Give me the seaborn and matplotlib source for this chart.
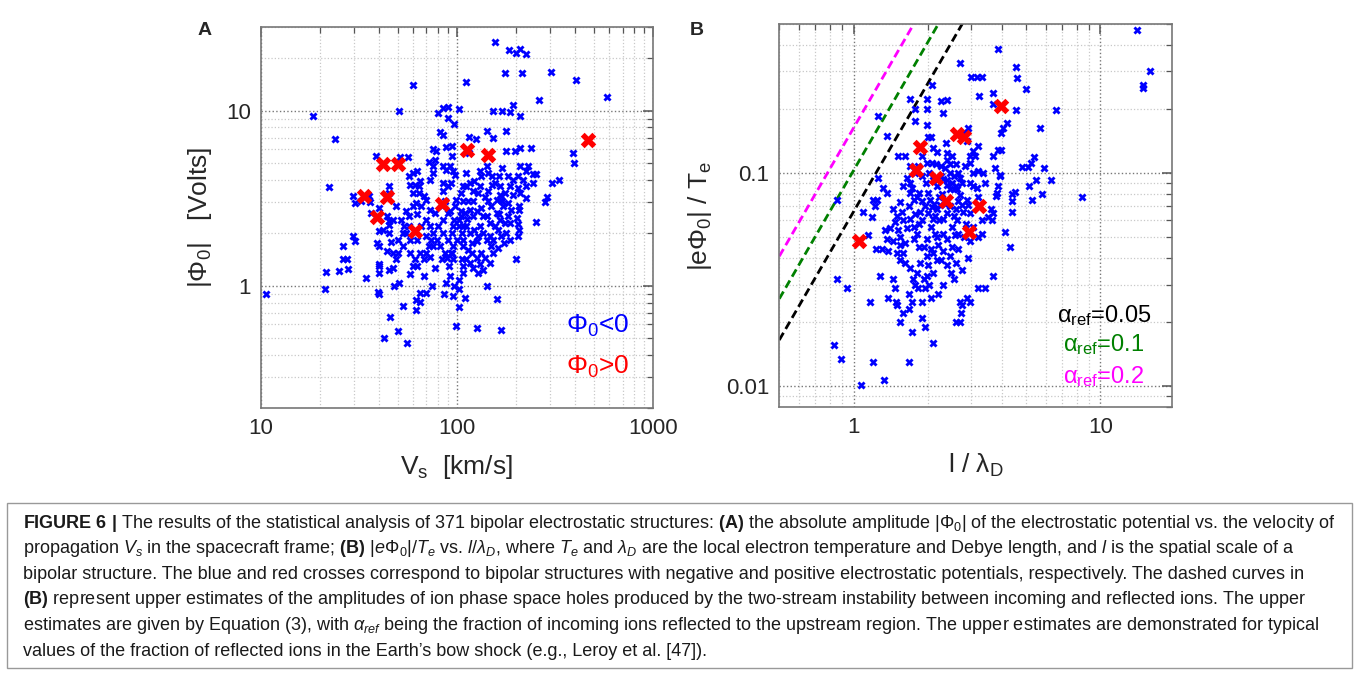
import numpy as np
import seaborn as sns
import matplotlib
matplotlib.use('Agg')
import matplotlib.pyplot as plt
from matplotlib.patches import Rectangle
from matplotlib.ticker import NullFormatter

# panel A: |Phi0| vs Vs, negative potentials (blue)
vs_neg = [157, 185, 200, 209, 226, 176, 216, 301, 112, 403, 60, 261, 585, 18.5, 50.8, 23.9, 22.2, 38.8, 51.3, 56.5,
          80, 85, 90.3, 102, 90, 96.6, 82, 85, 153, 169, 187, 194, 210, 197, 210, 179, 240, 179, 142, 153,
          125, 116, 116, 88, 94, 94, 396, 392, 332, 307, 281, 287, 252, 230, 226, 245, 254, 226, 226, 210,
          205, 194, 187, 205, 208, 208, 203, 205, 208, 205, 200, 187, 170, 172, 166, 168, 165, 166, 163, 168,
          162, 157, 151, 144, 152, 165, 170, 142, 144, 133, 131, 128, 139, 144, 133, 136, 131, 136, 142, 147,
          123, 128, 126, 153, 150, 114, 117, 121, 117, 112, 110, 113, 108, 106, 108, 107, 117, 119, 114, 120,
          112, 121, 131, 136, 128, 106, 108, 110, 103, 143, 160, 167, 127, 99, 97, 102, 96, 88, 92, 86,
          91, 96, 93, 96, 100, 95, 103, 97, 92, 98, 105, 99, 105, 107, 93, 98, 88, 96, 85, 92,
          77, 78, 76, 85, 90, 85, 76, 73, 72, 76, 87, 84, 90, 85, 80, 85, 79, 82, 87, 84,
          89, 76, 74, 72, 76, 70, 68, 73, 77, 70, 68, 64, 62, 66, 73, 70, 60, 63, 60, 64,
          65, 57, 60, 63, 58, 61, 55, 57, 54, 52, 53, 50, 53, 50, 58, 61, 60, 63, 58, 68,
          75, 65, 70, 62, 65, 62, 53, 50, 56, 45.6, 42.5, 51, 48, 47, 49, 47, 46, 44, 45, 42,
          44, 45, 40, 35.6, 36, 32.3, 30.4, 29.6, 26.3, 26.3, 27.6, 28, 25, 21.4, 21.3, 10.6, 29.4, 30.2, 34.6, 39.5,
          40, 40, 40, 40, 39, 40, 45, 40, 45, 45, 45, 36.7, 107, 112, 121, 127, 142, 147, 157, 160,
          150, 160, 182, 190, 182, 176, 178, 186, 173, 153, 140, 147, 133, 126, 117, 108, 102, 94, 90, 102,
          121, 194, 218, 245, 210, 182, 166, 176, 123, 131, 112, 105, 96, 77, 73, 70, 66, 63, 58, 55,
          65, 57, 49, 47]
phi_neg = [24.6, 22.1, 21.4, 22.5, 20.9, 16.3, 16.3, 16.6, 14.6, 14.9, 14.0, 11.5, 11.9, 9.3, 10.0, 6.9, 3.66, 5.48, 5.4, 5.4,
           9.7, 10.4, 10.5, 10.2, 9.1, 8.4, 7.55, 7.2, 9.9, 9.9, 9.8, 10.7, 9.3, 5.9, 6.1, 5.9, 6.1, 7.6, 7.6, 7.0,
           6.9, 7.1, 5.73, 6.2, 6.3, 5.5, 5.0, 5.7, 4.0, 3.86, 3.0, 3.2, 2.32, 4.8, 4.5, 4.35, 4.35, 3.17, 3.7, 3.4,
           3.6, 3.3, 3.7, 4.2, 2.85, 2.7, 2.44, 2.25, 2.09, 1.91, 1.41, 2.27, 3.04, 2.84, 3.3, 3.1, 2.55, 2.38, 2.09, 1.91,
           1.64, 3.86, 3.77, 3.46, 4.2, 4.2, 4.7, 4.8, 4.4, 4.2, 3.7, 3.4, 3.2, 3.03, 2.78, 2.5, 2.18, 2.0, 1.83, 1.91,
           2.09, 1.91, 1.79, 1.83, 1.68, 3.03, 2.72, 3.46, 3.86, 4.4, 2.6, 2.4, 2.18, 2.0, 1.83, 1.68, 2.0, 1.75, 1.6, 1.54,
           1.41, 1.26, 1.32, 1.23, 1.18, 1.41, 1.29, 0.85, 0.75, 0.99, 0.84, 0.56, 0.57, 0.59, 0.99, 0.96, 0.87, 1.04, 1.13, 0.89,
           1.29, 1.41, 1.54, 1.68, 1.83, 2.0, 2.18, 2.38, 2.66, 2.84, 2.66, 3.1, 3.4, 3.7, 3.86, 4.3, 4.55, 4.5, 4.8, 4.8,
           5.2, 5.9, 6.0, 3.86, 3.7, 3.46, 4.4, 4.0, 5.1, 4.8, 3.03, 2.84, 2.6, 2.38, 2.18, 2.0, 1.83, 1.68, 1.54, 1.41,
           1.44, 2.0, 1.83, 1.68, 1.68, 1.54, 1.41, 1.46, 1.26, 3.1, 3.24, 3.4, 2.97, 2.84, 2.72, 2.38, 2.84, 2.58, 3.4, 3.7,
           3.95, 4.2, 4.4, 4.5, 3.77, 3.77, 2.66, 2.49, 2.18, 2.38, 2.0, 1.83, 1.68, 1.54, 1.54, 1.41, 1.29, 1.29, 1.16, 1.13,
           1.0, 0.91, 0.91, 0.83, 0.81, 0.73, 0.76, 0.55, 0.47, 0.66, 0.5, 1.04, 1.0, 1.26, 1.41, 1.54, 1.77, 1.57, 2.0, 2.09,
           2.49, 2.33, 2.78, 3.24, 3.0, 3.03, 2.96, 3.24, 1.69, 1.41, 1.41, 1.25, 1.21, 1.19, 0.95, 0.9, 1.91, 1.79, 1.1, 0.92,
           0.89, 1.18, 1.29, 1.32, 1.75, 1.68, 1.22, 2.06, 2.23, 3.7, 3.4, 2.6, 3.03, 2.18, 2.49, 2.66, 2.49, 2.28, 2.18, 2.6,
           2.84, 3.1, 2.97, 2.72, 2.49, 2.28, 2.0, 1.83, 1.75, 1.54, 1.44, 1.35, 1.54, 1.44, 1.35, 1.18, 1.08, 1.54, 1.83, 2.38,
           3.03, 4.0, 4.0, 3.86, 4.8, 4.2, 3.7, 3.4, 3.95, 4.5, 3.7, 2.49, 2.18, 2.6, 2.18, 1.91, 2.18, 1.83, 1.83, 2.0,
           1.54, 2.18, 2.84, 2.38]

# panel A: positive potentials (red)
vs_pos = [33.7, 42.2, 50, 44.2, 39, 61.4, 84, 113, 145, 467]
phi_pos = [3.27, 4.98, 4.98, 3.21, 2.47, 2.04, 2.93, 5.93, 5.6, 6.77]

# panel B: |e Phi0|/Te vs l/lambda_D, negative potentials (blue)
l_neg = [14.1, 14.9, 14.9, 15.9, 3.86, 2.7, 4.55, 4.6, 5.0, 4.57, 6.6, 3.0, 3.16, 3.3, 3.22, 3.68, 3.66, 4.17, 4.04, 3.97,
         3.95, 3.86, 3.68, 3.75, 3.9, 4.8, 5.1, 5.25, 5.4, 5.7, 5.9, 6.3, 5.5, 5.15, 5.8, 5.3, 8.4, 4.4, 4.5, 4.37,
         4.4, 4.1, 4.3, 3.68, 3.4, 3.2, 3.8, 3.77, 3.86, 3.9, 3.6, 3.68, 3.65, 3.3, 3.2, 3.06, 2.96, 2.92, 2.87, 3.06,
         2.96, 3.06, 3.2, 3.33, 2.96, 3.06, 3.2, 2.87, 2.96, 3.1, 2.92, 2.78, 2.37, 2.31, 2.27, 2.38, 2.07, 1.99, 1.7, 1.78,
         1.98, 1.77, 1.98, 2.0, 2.05, 2.1, 2.17, 2.38, 2.38, 2.45, 2.34, 2.27, 2.45, 2.55, 2.4, 2.5, 2.6, 2.55, 2.31, 2.38,
         2.46, 2.66, 2.7, 2.74, 2.62, 2.7, 2.66, 2.74, 2.78, 2.54, 2.62, 2.5, 2.66, 2.58, 2.46, 2.38, 2.31, 2.21, 2.31, 2.18,
         2.38, 2.1, 2.05, 2.14, 1.98, 1.92, 2.05, 2.1, 1.98, 2.17, 2.27, 2.38, 2.47, 2.54, 2.1, 1.98, 1.92, 2.03, 1.95, 2.06,
         1.8, 1.74, 1.77, 1.83, 1.68, 1.72, 1.67, 1.58, 1.54, 1.89, 1.95, 1.73, 2.1, 2.6, 2.72, 2.7, 2.7, 2.74, 2.87, 2.96,
         1.67, 1.45, 1.5, 1.47, 1.52, 1.54, 1.54, 1.59, 1.5, 1.54, 1.62, 1.69, 1.75, 1.68, 1.77, 1.69, 1.84, 1.9, 1.86, 1.84,
         1.9, 1.75, 1.8, 1.75, 1.84, 1.62, 1.69, 1.77, 1.89, 1.83, 1.98, 1.9, 1.97, 2.07, 2.03, 2.1, 2.17, 1.54, 1.57, 1.69,
         1.59, 2.01, 2.04, 2.07, 2.01, 2.21, 2.24, 2.17, 2.14, 1.34, 1.36, 1.38, 1.3, 1.52, 1.36, 1.32, 1.24, 1.2, 1.22, 1.19,
         1.09, 1.14, 1.23, 1.28, 1.45, 1.47, 1.38, 1.49, 1.5, 1.17, 1.25, 1.37, 1.26, 0.86, 0.86, 0.94, 0.83, 0.89, 1.2, 1.33,
         1.07, 1.65, 1.72, 1.8, 1.95, 2.12, 2.28, 2.35, 2.6, 2.85, 2.95, 2.8, 2.66, 2.5, 2.3, 2.2, 2.6, 2.45, 2.0, 1.85,
         1.7, 1.62, 1.65, 1.58, 1.4, 1.45, 2.15, 2.25, 2.5, 2.6, 2.82, 3.15, 3.2, 3.4, 3.5, 3.3, 2.9, 2.75, 2.3, 2.2,
         1.9]
ephi_neg = [0.468, 0.26, 0.251, 0.30, 0.381, 0.33, 0.313, 0.278, 0.247, 0.198, 0.198, 0.282, 0.282, 0.282, 0.23, 0.238, 0.212, 0.172, 0.163, 0.155,
            0.129, 0.129, 0.12, 0.106, 0.097, 0.107, 0.107, 0.111, 0.119, 0.163, 0.106, 0.093, 0.093, 0.087, 0.08, 0.075, 0.077, 0.08, 0.082, 0.074,
            0.066, 0.053, 0.045, 0.033, 0.029, 0.029, 0.081, 0.078, 0.087, 0.098, 0.068, 0.065, 0.06, 0.06, 0.05, 0.056, 0.065, 0.071, 0.075, 0.087,
            0.09, 0.1, 0.102, 0.1, 0.112, 0.127, 0.134, 0.141, 0.12, 0.12, 0.163, 0.155, 0.139, 0.192, 0.218, 0.22, 0.258, 0.222, 0.223, 0.2,
            0.2, 0.175, 0.168, 0.147, 0.147, 0.131, 0.125, 0.124, 0.115, 0.11, 0.106, 0.108, 0.1, 0.097, 0.093, 0.09, 0.087, 0.084, 0.094, 0.088,
            0.084, 0.1, 0.095, 0.09, 0.084, 0.079, 0.074, 0.071, 0.066, 0.063, 0.06, 0.056, 0.052, 0.051, 0.07, 0.065, 0.061, 0.06, 0.052, 0.05,
            0.049, 0.061, 0.056, 0.052, 0.049, 0.045, 0.044, 0.042, 0.041, 0.039, 0.039, 0.037, 0.034, 0.032, 0.034, 0.033, 0.032, 0.03, 0.029, 0.026,
            0.034, 0.032, 0.03, 0.029, 0.027, 0.025, 0.023, 0.022, 0.02, 0.021, 0.019, 0.018, 0.016, 0.02, 0.022, 0.02, 0.025, 0.024, 0.026, 0.025,
            0.013, 0.068, 0.063, 0.059, 0.054, 0.05, 0.046, 0.042, 0.042, 0.039, 0.038, 0.081, 0.075, 0.07, 0.064, 0.061, 0.081, 0.074, 0.066, 0.058,
            0.06, 0.056, 0.052, 0.049, 0.045, 0.12, 0.108, 0.1, 0.12, 0.108, 0.112, 0.097, 0.09, 0.112, 0.1, 0.093, 0.087, 0.073, 0.066, 0.09,
            0.087, 0.081, 0.075, 0.069, 0.065, 0.077, 0.071, 0.068, 0.063, 0.054, 0.049, 0.043, 0.044, 0.12, 0.081, 0.085, 0.075, 0.075, 0.07, 0.062,
            0.066, 0.051, 0.044, 0.033, 0.032, 0.029, 0.026, 0.025, 0.024, 0.025, 0.095, 0.15, 0.185, 0.075, 0.032, 0.029, 0.0157, 0.0134, 0.013, 0.0107,
            0.0101, 0.095, 0.085, 0.077, 0.07, 0.072, 0.08, 0.072, 0.068, 0.058, 0.048, 0.05, 0.044, 0.045, 0.043, 0.046, 0.038, 0.041, 0.037, 0.038,
            0.036, 0.047, 0.055, 0.06, 0.055, 0.048, 0.11, 0.097, 0.12, 0.11, 0.108, 0.085, 0.077, 0.09, 0.062, 0.052, 0.04, 0.035, 0.03, 0.027,
            0.025]

# panel B: positive potentials (red)
l_pos = [1.05, 1.86, 1.79, 2.15, 2.36, 2.63, 2.8, 3.94, 3.22, 2.94]
ephi_pos = [0.048, 0.132, 0.103, 0.095, 0.074, 0.153, 0.148, 0.206, 0.07, 0.053]

# upper estimates |e Phi0|/Te = c * (l/lambda_D)^2 for each alpha_ref
alpha_ref = ['0.05', '0.1', '0.2']
alpha_coef = [0.066, 0.103, 0.163]
alpha_colors = ['black', '#008000', '#ff00ff']

caption_lines = [
    r"$\mathbf{FIGURE\ 6\ |}$ The results of the statistical analysis of 371 bipolar electrostatic structures: $\mathbf{(A)}$ the absolute amplitude |Φ$_0$| of the electrostatic potential vs. the velocity of",
    r"propagation $V_s$ in the spacecraft frame; $\mathbf{(B)}$ |$e$Φ$_0$|/$T_e$ vs. $l$/$\lambda_D$, where $T_e$ and $\lambda_D$ are the local electron temperature and Debye length, and $l$ is the spatial scale of a",
    "bipolar structure. The blue and red crosses correspond to bipolar structures with negative and positive electrostatic potentials, respectively. The dashed curves in",
    r"$\mathbf{(B)}$ represent upper estimates of the amplitudes of ion phase space holes produced by the two-stream instability between incoming and reflected ions. The upper",
    r"estimates are given by Equation (3), with $\alpha_{ref}$ being the fraction of incoming ions reflected to the upstream region. The upper estimates are demonstrated for typical",
    "values of the fraction of reflected ions in the Earth’s bow shock (e.g., Leroy et al. [47]).",
]

sns.set_style('white')
plt.rcParams['font.family'] = ['Liberation Sans', 'DejaVu Sans']
plt.rcParams['mathtext.fontset'] = 'custom'
plt.rcParams['mathtext.rm'] = 'Liberation Sans'
plt.rcParams['mathtext.it'] = 'Liberation Sans:italic'
plt.rcParams['mathtext.bf'] = 'Liberation Sans:bold'
plt.rcParams['mathtext.sf'] = 'Liberation Sans'


def style_axis(ax):
    ax.set_xscale('log')
    ax.set_yscale('log')
    ax.grid(True, which='minor', color='#c8c8c8', linestyle=':', linewidth=0.9)
    ax.grid(True, which='major', color='#777777', linestyle=':', linewidth=1.0)
    ax.set_axisbelow(True)
    ax.tick_params(which='both', direction='in', top=True, right=True, color='#555555', labelsize=16)
    ax.tick_params(which='major', length=7, width=1.1, pad=7)
    ax.tick_params(which='minor', length=4, width=0.9)
    ax.xaxis.set_minor_formatter(NullFormatter())
    ax.yaxis.set_minor_formatter(NullFormatter())
    for sp in ax.spines.values():
        sp.set_color('#777777')
        sp.set_linewidth(1.2)


fig = plt.figure(figsize=(13.6, 6.73), dpi=100)
ax1 = fig.add_axes([0.1917, 0.3938, 0.2884, 0.5661])
ax2 = fig.add_axes([0.5730, 0.3952, 0.2888, 0.5690])

# ---- panel A
style_axis(ax1)
sns.scatterplot(x=vs_neg, y=phi_neg, marker='X', color='#0000ff', s=34, linewidth=0, ax=ax1, zorder=3)
sns.scatterplot(x=vs_pos, y=phi_pos, marker='X', color='#ff0000', s=125, linewidth=0, ax=ax1, zorder=4)
ax1.set_xlim(10, 1000)
ax1.set_ylim(0.2, 30)
ax1.set_xticks([10, 100, 1000], ['10', '100', '1000'])
ax1.set_yticks([1, 10], ['1', '10'])
ax1.set_xlabel('V$_\\mathsf{s}$  [km/s]', fontsize=19, labelpad=10)
ax1.set_ylabel('|Φ$_\\mathsf{0}$|   [Volts]', fontsize=19, labelpad=9)
ax1.text(0.94, 0.216, 'Φ$_\\mathsf{0}$<0', color='#0000ff', fontsize=19, ha='right', va='center', transform=ax1.transAxes)
ax1.text(0.94, 0.108, 'Φ$_\\mathsf{0}$>0', color='#ff0000', fontsize=19, ha='right', va='center', transform=ax1.transAxes)

# ---- panel B
style_axis(ax2)
xs = np.geomspace(0.5, 3.5, 60)
for c, col in zip(alpha_coef, alpha_colors):
    sns.lineplot(x=xs, y=c * xs ** 2, color=col, linewidth=2, linestyle=(0, (3, 1.6)), ax=ax2, zorder=2)
sns.scatterplot(x=l_neg, y=ephi_neg, marker='X', color='#0000ff', s=34, linewidth=0, ax=ax2, zorder=3)
sns.scatterplot(x=l_pos, y=ephi_pos, marker='X', color='#ff0000', s=125, linewidth=0, ax=ax2, zorder=4)
ax2.set_xlim(0.5, 19.5)
ax2.set_ylim(0.008, 0.5)
ax2.set_xticks([1, 10], ['1', '10'])
ax2.set_yticks([0.01, 0.1], ['0.01', '0.1'])
ax2.set_xlabel('l / λ$_\\mathsf{D}$', fontsize=19, labelpad=10)
ax2.set_ylabel('|eΦ$_\\mathsf{0}$| / T$_\\mathsf{e}$', fontsize=19, labelpad=9)
for a, col, yy in zip(alpha_ref, alpha_colors, [0.240, 0.162, 0.079]):
    ax2.text(0.827, yy, 'α$_\\mathsf{ref}$=' + a, color=col, fontsize=17, ha='center', va='center',
             transform=ax2.transAxes)

fig.text(0.1507, 0.9554, 'A', fontsize=14, fontweight='bold', ha='center', va='center')
fig.text(0.5125, 0.9554, 'B', fontsize=14, fontweight='bold', ha='center', va='center')

# ---- caption
fig.add_artist(Rectangle((7 / 1360, 1 - 668 / 673), 1345 / 1360, 165 / 673, fill=False,
                         edgecolor='#999999', linewidth=1.0, transform=fig.transFigure))
for i, line in enumerate(caption_lines):
    fig.text(22.7 / 1360, 1 - (523 + 25.6 * i) / 673, line, fontsize=13, ha='left', va='center', color='#1a1a1a')

fig.savefig('out.png', dpi=100)
